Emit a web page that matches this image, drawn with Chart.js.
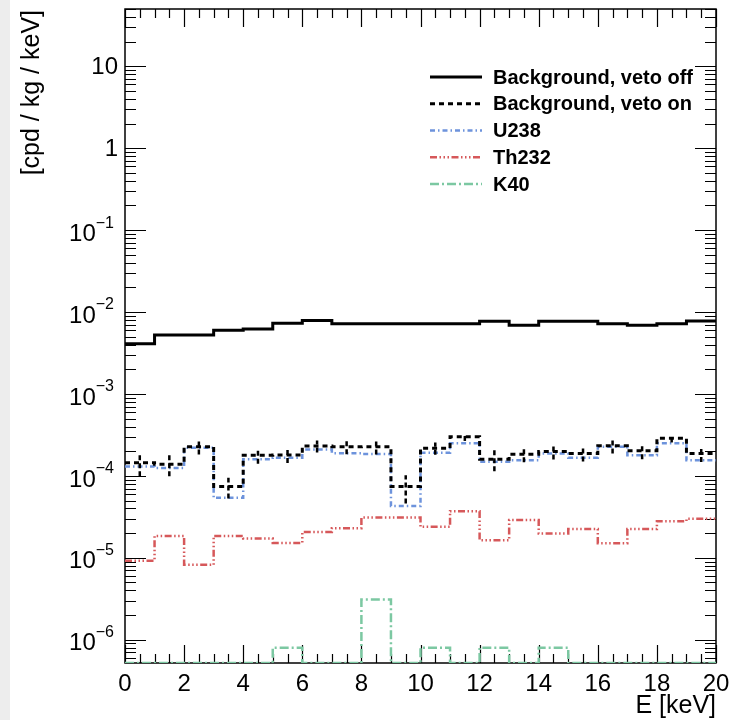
<!DOCTYPE html>
<html>
<head>
<meta charset="utf-8">
<title>Background spectrum</title>
<script src="https://cdn.jsdelivr.net/npm/chart.js@4.4.0/dist/chart.umd.min.js"></script>
<style>
    html, body {
        margin: 0;
        padding: 0;
        background: #fff;
    }
    .wrap {
        position: relative;
        width: 736px;
        height: 720px;
    }
    .strip {
        position: absolute;
        left: 0;
        top: 0;
        width: 10px;
        height: 720px;
        background: #ededed;
    }
    canvas {
        position: absolute;
        left: 0;
        top: 0;
    }
</style>
</head>
<body>
<div class="wrap">
    <div class="strip"></div>
    <canvas id="spec" width="736" height="720"></canvas>
</div>

<script>
// bin edges in keV (20 bins of 1 keV)
const binEdges = [0, 1, 2, 3, 4, 5, 6, 7, 8, 9, 10, 11, 12, 13, 14, 15, 16, 17, 18, 19, 20];

// rates in cpd / kg / keV, one value per bin
const vetoOff = [4.1e-3, 5.25e-3, 5.25e-3, 6.0e-3, 6.2e-3, 7.3e-3, 7.9e-3, 7.2e-3, 7.2e-3, 7.2e-3,
                 7.2e-3, 7.2e-3, 7.7e-3, 6.9e-3, 7.7e-3, 7.7e-3, 7.2e-3, 6.9e-3, 7.2e-3, 7.8e-3];
const vetoOn = [1.45e-4, 1.39e-4, 2.27e-4, 7.4e-5, 1.79e-4, 1.8e-4, 2.32e-4, 2.26e-4, 2.27e-4, 7.4e-5,
                2.18e-4, 3.0e-4, 1.6e-4, 1.84e-4, 1.98e-4, 1.87e-4, 2.34e-4, 2.02e-4, 2.88e-4, 1.87e-4];
const vetoOnErr = [4.6e-5, 4.0e-5, 4.5e-5, 2.1e-5, 3.8e-5, 3.6e-5, 3.9e-5, 4.2e-5, 4.5e-5, 2.8e-5,
                   3.7e-5, 3.3e-5, 4.6e-5, 3.7e-5, 4.0e-5, 3.7e-5, 4.7e-5, 4.2e-5, 3.2e-5, 3.9e-5];
const u238 = [1.3e-4, 1.25e-4, 2.2e-4, 5.4e-5, 1.6e-4, 1.67e-4, 2.1e-4, 1.89e-4, 1.85e-4, 4.3e-5,
              1.92e-4, 2.5e-4, 1.49e-4, 1.55e-4, 1.87e-4, 1.67e-4, 2.27e-4, 1.79e-4, 2.5e-4, 1.55e-4];
const th232 = [9.2e-6, 1.85e-5, 8.2e-6, 1.85e-5, 1.72e-5, 1.52e-5, 2.07e-5, 2.3e-5, 3.1e-5, 3.1e-5,
               2.39e-5, 3.71e-5, 1.64e-5, 2.9e-5, 1.98e-5, 2.24e-5, 1.51e-5, 2.24e-5, 2.8e-5, 3.0e-5];
const k40 = [0, 0, 0, 0, 0, 8.0e-7, 0, 0, 3.1e-6, 0,
             8.0e-7, 0, 8.0e-7, 0, 8.0e-7, 0, 0, 0, 0, 0];

const seriesNames = ['Background, veto off', 'Background, veto on', 'U238', 'Th232', 'K40'];
const xTickLabels = [0, 2, 4, 6, 8, 10, 12, 14, 16, 18, 20];
const yDecades = [1, 0, -1, -2, -3, -4, -5, -6];

const Y_MIN = 5.2e-7;
const Y_MAX = 50;
const FONT = '"Liberation Sans", Arial, Helvetica, sans-serif';

// histogram outline: one point per left edge plus the last right edge
function histPoints(vals) {
    const pts = vals.map((v, i) => ({ x: binEdges[i], y: v > 0 ? v : Y_MIN }));
    pts.push({ x: binEdges[vals.length], y: pts[pts.length - 1].y });
    return pts;
}

function histSet(label, vals, color, width, dash) {
    return {
        label: label,
        data: histPoints(vals),
        borderColor: color,
        borderWidth: width,
        borderDash: dash,
        stepped: 'before',
        pointRadius: 0,
        fill: false,
        tension: 0
    };
}

// ROOT-like frame and ticks under the histograms
const frame = {
    id: 'frame',
    beforeDatasetsDraw(chart) {
        const ctx = chart.ctx;
        const a = chart.chartArea;
        const xs = chart.scales.x;
        const ys = chart.scales.y;

        ctx.save();
        ctx.strokeStyle = '#000';
        ctx.lineWidth = 1.5;
        ctx.strokeRect(a.left, a.top, a.right - a.left, a.bottom - a.top);

        // y ticks (log)
        ctx.lineWidth = 1.2;
        ctx.beginPath();
        for (let d = -7; d <= 2; d++) {
            for (let m = 1; m <= 9; m++) {
                const v = m * Math.pow(10, d);
                if (v < Y_MIN || v > Y_MAX) continue;
                const y = Math.round(ys.getPixelForValue(v)) + 0.5;
                const len = m === 1 ? 21 : 11;
                ctx.moveTo(a.left, y);
                ctx.lineTo(a.left + len, y);
                ctx.moveTo(a.right, y);
                ctx.lineTo(a.right - len, y);
            }
        }
        // x ticks
        for (let t = 0; t <= 20; t += 0.5) {
            const x = Math.round(xs.getPixelForValue(t)) + 0.5;
            const len = t % 2 === 0 ? 18 : 9;
            ctx.moveTo(x, a.bottom);
            ctx.lineTo(x, a.bottom - len);
            ctx.moveTo(x, a.top);
            ctx.lineTo(x, a.top + len);
        }
        ctx.stroke();
        ctx.restore();
    },
    afterDatasetsDraw(chart) {
        const ctx = chart.ctx;
        const a = chart.chartArea;
        const xs = chart.scales.x;
        const ys = chart.scales.y;

        ctx.save();

        // error bars of the veto-on spectrum
        const on = chart.data.datasets[1];
        ctx.strokeStyle = on.borderColor;
        ctx.lineWidth = 2.5;
        ctx.setLineDash([5, 3]);
        vetoOn.forEach((v, i) => {
            const xc = xs.getPixelForValue((binEdges[i] + binEdges[i + 1]) / 2);
            ctx.beginPath();
            ctx.moveTo(xc, ys.getPixelForValue(v - vetoOnErr[i]));
            ctx.lineTo(xc, ys.getPixelForValue(v + vetoOnErr[i]));
            ctx.stroke();
        });
        ctx.setLineDash([]);

        // tick labels
        ctx.fillStyle = '#000';
        ctx.font = '24px ' + FONT;
        ctx.textAlign = 'center';
        ctx.textBaseline = 'middle';
        xTickLabels.forEach(t => {
            ctx.fillText(String(t), xs.getPixelForValue(t), 684);
        });

        const labelRight = 118;
        yDecades.forEach(d => {
            const y = ys.getPixelForValue(Math.pow(10, d));
            ctx.textAlign = 'right';
            if (d === 1 || d === 0) {
                ctx.font = '24px ' + FONT;
                ctx.fillText(d === 1 ? '10' : '1', labelRight, y + 1);
            } else {
                const expo = '\u2212' + String(-d);
                ctx.font = '16px ' + FONT;
                const ew = ctx.measureText(expo).width;
                ctx.textAlign = 'left';
                ctx.fillText(expo, labelRight - ew - 4, y - 7);
                ctx.font = '24px ' + FONT;
                ctx.textAlign = 'right';
                ctx.fillText('10', labelRight - ew - 4, y + 4);
            }
        });

        // axis titles
        ctx.font = '25px ' + FONT;
        ctx.textAlign = 'right';
        ctx.textBaseline = 'middle';
        ctx.fillText('E [keV]', a.right, 706);

        ctx.save();
        ctx.translate(32, 10);
        ctx.rotate(-Math.PI / 2);
        ctx.fillText('[cpd / kg / keV]', 0, 0);
        ctx.restore();

        // legend
        ctx.font = 'bold 20px ' + FONT;
        ctx.textAlign = 'left';
        ctx.textBaseline = 'middle';
        chart.data.datasets.forEach((ds, i) => {
            const y = 77 + i * 26.75;
            ctx.strokeStyle = ds.borderColor;
            ctx.lineWidth = ds.borderWidth;
            ctx.setLineDash(ds.borderDash);
            ctx.beginPath();
            ctx.moveTo(430, y);
            ctx.lineTo(482, y);
            ctx.stroke();
            ctx.setLineDash([]);
            ctx.fillStyle = '#000';
            ctx.fillText(ds.label, 493, y + 1);
        });

        ctx.restore();
    }
};

const chart = new Chart(document.getElementById('spec').getContext('2d'), {
    type: 'line',
    data: {
        datasets: [
            histSet(seriesNames[0], vetoOff, '#000000', 3, []),
            histSet(seriesNames[1], vetoOn, '#000000', 3, [5, 4]),
            histSet(seriesNames[2], u238, '#6d93dc', 2.5, [5, 3, 1.5, 3]),
            histSet(seriesNames[3], th232, '#d6585a', 2.5, [7, 2.5, 1.5, 2.5, 1.5, 2.5, 1.5, 2.5]),
            histSet(seriesNames[4], k40, '#7cc8a2', 2.5, [9, 3, 2, 3])
        ]
    },
    options: {
        responsive: false,
        animation: false,
        layout: {
            padding: { left: 125, right: 20, top: 9, bottom: 57 }
        },
        scales: {
            x: { type: 'linear', min: 0, max: 20, display: false },
            y: { type: 'logarithmic', min: Y_MIN, max: Y_MAX, display: false }
        },
        plugins: {
            legend: { display: false },
            tooltip: { enabled: false }
        }
    },
    plugins: [frame]
});
</script>
</body>
</html>
